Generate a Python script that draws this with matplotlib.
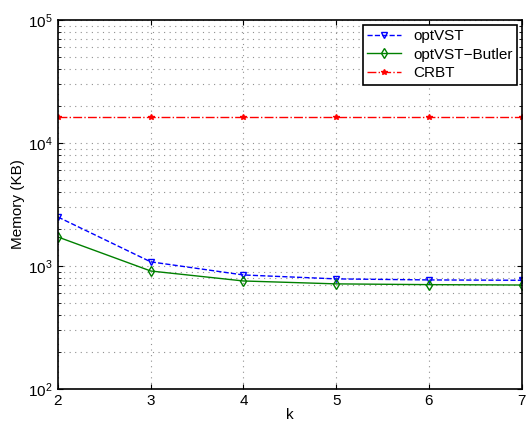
import numpy as np
import matplotlib.pyplot as plt

plt.rcParams['font.family'] = ['Liberation Sans', 'DejaVu Sans']

k = [2, 3, 4, 5, 6, 7]
opt_vst = [2500, 1080, 845, 785, 770, 765]
opt_vst_butler = [1720, 910, 755, 715, 705, 700]
crbt = [16384, 16384, 16384, 16384, 16384, 16384]

fig = plt.figure(figsize=(5.27, 4.26), dpi=100)
ax = fig.add_axes([0.110, 0.087, 0.880, 0.866])

ax.semilogy(k, opt_vst, '--', color='blue', marker='v', markersize=5,
            markerfacecolor='none', linewidth=1, label='optVST')
ax.semilogy(k, opt_vst_butler, '-', color='green', marker='d', markersize=5,
            markerfacecolor='none', linewidth=1, label='optVST\u2212Butler')
ax.semilogy(k, crbt, '-.', color='red', marker='*', markersize=4,
            linewidth=1, label='CRBT')

ax.set_xlim(2, 7)
ax.set_ylim(1e2, 1e5)
ax.set_xticks(k)
ax.set_xlabel('k', fontsize=11, labelpad=0)
ax.set_ylabel('Memory (KB)', fontsize=11, labelpad=2)
ax.tick_params(which='both', direction='in', labelsize=11, top=True, right=True, pad=4)
ax.tick_params(which='minor', length=2)
grid_style = dict(linestyle=(0, (1, 4)), color='#909090', linewidth=0.8)
ax.grid(True, which='major', **grid_style)
ax.grid(True, which='minor', axis='y', **grid_style)
for s in ax.spines.values():
    s.set_linewidth(1.2)

leg = ax.legend(loc='upper right', fontsize=11, fancybox=False, edgecolor='black',
                framealpha=1, borderaxespad=0.3, handlelength=2.2,
                labelspacing=0.3, borderpad=0.3)
leg.get_frame().set_linewidth(1.2)

fig.savefig('out.png', dpi=100)
